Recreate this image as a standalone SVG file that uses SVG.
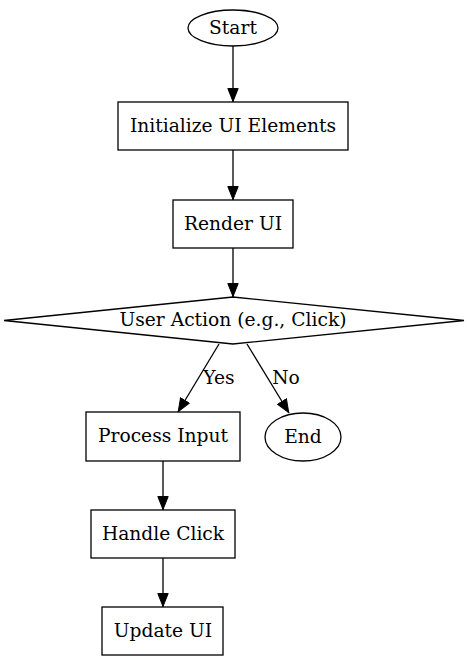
<svg xmlns="http://www.w3.org/2000/svg" width="467" height="661" viewBox="0 0 467 661">
<style>
.n{fill:#fff;stroke:#000;stroke-width:1.3}
.t{font-family:"DejaVu Serif",serif;font-size:18.67px;fill:#000;text-anchor:middle}
.e{fill:none;stroke:#000;stroke-width:1.3}
</style>
<defs>
<marker id="a" viewBox="0 0 14 12" refX="14" refY="6" markerWidth="14" markerHeight="12" markerUnits="userSpaceOnUse" orient="auto">
<path d="M0.5,0.8 L13.5,6 L0.5,11.2 Z" fill="#000" stroke="#000" stroke-width="1"/>
</marker>
</defs>
<rect width="467" height="661" fill="#fff"/>
<g id="edges">
<line class="e" x1="233" y1="46" x2="233" y2="102" marker-end="url(#a)"/>
<line class="e" x1="233" y1="150" x2="233" y2="200" marker-end="url(#a)"/>
<line class="e" x1="233" y1="248" x2="233" y2="297" marker-end="url(#a)"/>
<line class="e" x1="219" y1="344" x2="178" y2="412" marker-end="url(#a)"/>
<line class="e" x1="247" y1="344" x2="289" y2="413" marker-end="url(#a)"/>
<line class="e" x1="163" y1="461" x2="163" y2="510" marker-end="url(#a)"/>
<line class="e" x1="163" y1="558" x2="163" y2="607" marker-end="url(#a)"/>
<text class="t" x="219" y="384">Yes</text>
<text class="t" x="286" y="384">No</text>
</g>
<g id="start"><ellipse class="n" cx="233" cy="28" rx="45" ry="18"/><text class="t" x="233" y="34">Start</text></g>
<g id="init"><rect class="n" x="118" y="102" width="230" height="48"/><text class="t" x="233" y="132">Initialize UI Elements</text></g>
<g id="render"><rect class="n" x="173" y="200" width="120" height="48"/><text class="t" x="233" y="230">Render UI</text></g>
<g id="action"><polygon class="n" points="233,297 464,320.5 233,344 4,320.5"/><text class="t" x="233" y="326">User Action (e.g., Click)</text></g>
<g id="process"><rect class="n" x="86" y="412" width="154" height="49"/><text class="t" x="163" y="442">Process Input</text></g>
<g id="end"><ellipse class="n" cx="303" cy="437" rx="38" ry="24"/><text class="t" x="303" y="443">End</text></g>
<g id="handle"><rect class="n" x="91" y="510" width="144" height="48"/><text class="t" x="163" y="540">Handle Click</text></g>
<g id="update"><rect class="n" x="102" y="607" width="121" height="48"/><text class="t" x="163" y="637">Update UI</text></g>
</svg>
